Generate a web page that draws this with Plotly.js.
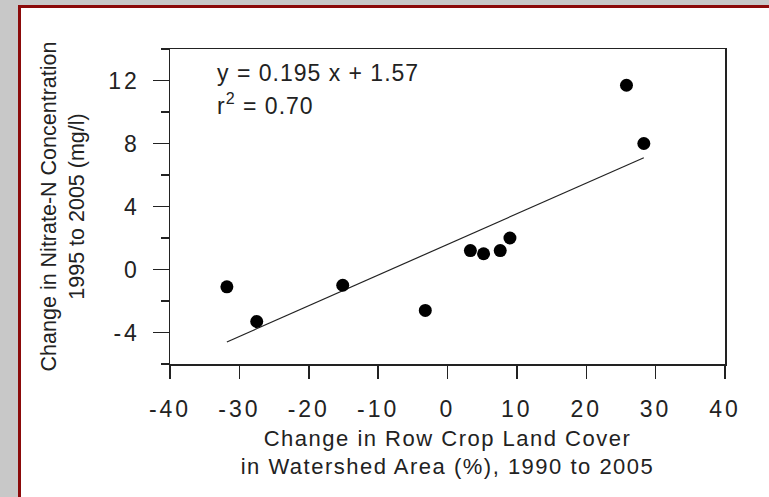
<!DOCTYPE html>
<html>
<head>
<meta charset="utf-8">
<script src="https://cdn.plot.ly/plotly-3.0.1.min.js"></script>
<style>
  html, body { margin: 0; padding: 0; width: 769px; height: 497px; overflow: hidden; background: #c8c8c8; }
  #frame { position: absolute; left: 18px; top: 5px; width: 751px; height: 492px; background: #ffffff;
           border-left: 3px solid #8b0a0a; border-top: 3px solid #8b0a0a; box-sizing: border-box; }
  #chart { position: absolute; left: 0; top: 0; width: 769px; height: 497px; }
  #chart .xtick text, #chart .ytick text { letter-spacing: 3px; }
  text.xtitle { letter-spacing: 1.5px; }
  text.annotation-text { letter-spacing: 1px; }
</style>
</head>
<body>
<div id="frame"></div>
<div id="chart"></div>
<script>
// Change in row crop land cover (%), 1990 to 2005
const cropChange = [-31.8, -27.5, -15.1, -3.2, 3.3, 5.2, 7.6, 9.0, 25.8, 28.3];
// Change in nitrate-N concentration (mg/l), 1995 to 2005
const nitrateChange = [-1.1, -3.3, -1.0, -2.6, 1.2, 1.0, 1.2, 2.0, 11.7, 8.0];
// Regression line endpoints
const fitX = [-31.8, 28.3];
const fitY = [-4.6, 7.1];
const xTickVals = [-40, -30, -20, -10, 0, 10, 20, 30, 40];
const yTickVals = [-4, 0, 4, 8, 12];
const equationText = "y = 0.195 x + 1.57";
const r2Text = "r<sup>2</sup> = 0.70";

const FONT = "Liberation Sans, Arial, sans-serif";
const INK = "#222222";

const traces = [
  {
    x: fitX, y: fitY, type: "scatter", mode: "lines",
    line: { color: INK, width: 1.2 }, hoverinfo: "skip", showlegend: false
  },
  {
    x: cropChange, y: nitrateChange, type: "scatter", mode: "markers",
    marker: { color: "#000000", size: 13 }, showlegend: false
  }
];

const layout = {
  width: 769, height: 497,
  paper_bgcolor: "rgba(0,0,0,0)",
  plot_bgcolor: "#ffffff",
  margin: { l: 170, r: 43.5, t: 49, b: 132.7, pad: 0 },
  font: { family: FONT, color: INK, size: 20 },
  showlegend: false,
  xaxis: {
    range: [-40, 40], tickvals: xTickVals, ticktext: xTickVals.map(String),
    ticks: "outside", ticklen: 13, tickwidth: 1.5, tickcolor: INK,
    showline: true, linecolor: INK, linewidth: 1.5, mirror: true,
    showgrid: false, zeroline: false,
    tickfont: { family: FONT, size: 23, color: INK },
    ticklabelstandoff: 11,
    automargin: true,
    title: { text: "Change in Row Crop Land Cover<br>in Watershed Area (%), 1990 to 2005",
             font: { family: FONT, size: 22, color: INK }, standoff: 9 }
  },
  yaxis: {
    range: [-6, 14], tickvals: yTickVals, ticktext: yTickVals.map(String),
    ticks: "outside", ticklen: 16, tickwidth: 1.5, tickcolor: INK,
    minor: { ticks: "outside", ticklen: 8, tickwidth: 1.5, tickcolor: INK, dtick: 2, tick0: 0 },
    showline: true, linecolor: INK, linewidth: 1.5, mirror: true,
    showgrid: false, zeroline: false,
    tickfont: { family: FONT, size: 23, color: INK },
    ticklabelstandoff: 8,
    automargin: true,
    title: { text: "Change in Nitrate-N Concentration<br>1995 to 2005 (mg/l)",
             font: { family: FONT, size: 21.5, color: INK }, standoff: 24 }
  },
  annotations: [
    { xref: "paper", yref: "paper", x: 0.081, y: 0.924, xanchor: "left", yanchor: "middle",
      text: equationText, showarrow: false, font: { family: FONT, size: 23, color: INK } },
    { xref: "paper", yref: "paper", x: 0.081, y: 0.826, xanchor: "left", yanchor: "middle",
      text: r2Text, showarrow: false, font: { family: FONT, size: 23, color: INK } }
  ]
};

Plotly.newPlot("chart", traces, layout, { displayModeBar: false, staticPlot: true });
</script>
</body>
</html>
